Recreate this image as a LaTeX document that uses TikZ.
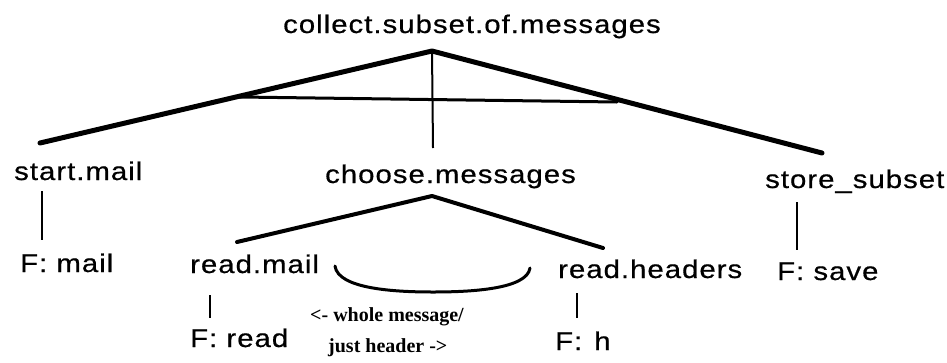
\documentclass[tikz,border=0pt]{standalone}
\usepackage{fontspec}
\setmainfont{Liberation Sans}[FakeStretch=1.15,LetterSpace=4,FakeBold=0.6]
\newfontfamily\notefont{Liberation Serif}
\begin{document}
\begin{tikzpicture}[x=1pt,y=-1pt,
  lbl/.style={font=\fontsize{25.5}{30}\selectfont, inner sep=0pt, anchor=base west},
  note/.style={font=\notefont\bfseries\fontsize{20}{22}\selectfont, inner sep=0pt, anchor=base west},
  heavy/.style={line width=5pt, line cap=round, line join=round},
  medium/.style={line width=4pt, line cap=round, line join=round},
  bar/.style={line width=3pt, line cap=round},
  thin/.style={line width=2pt}
]
\useasboundingbox (0,0) rectangle (947,362);
% labels
\node[lbl] (root) at (283,33) {collect.subset.of.messages};
\node[lbl] (start) at (14,180) {start.mail};
\node[lbl] (choose) at (325,183) {choose.messages};
\node[lbl] (store) at (765,188) {store\_subset};
\node[lbl] (fmail) at (20,272) {F: mail};
\node[lbl] (readmail) at (190,273) {read.mail};
\node[lbl] (readhead) at (558,278) {read.headers};
\node[lbl] (fsave) at (777,280) {F: save};
\node[lbl] (fread) at (190,347) {F: read};
\node[lbl] (fh) at (555,350) {F:\hspace{12pt}h};
\node[note] (note1) at (310,321) {<- whole message/};
\node[note] (note2) at (328,352) {just header ->};
% coordinates of the tree
\coordinate (apex) at (432,51);
\coordinate (lend) at (40,143);
\coordinate (rend) at (822,153);
\coordinate (barL) at (240,97);
\coordinate (barR) at (617,102);
\coordinate (mid) at (433,148);
\coordinate (capex) at (432,196);
\coordinate (clend) at (237,242);
\coordinate (crend) at (603,248);
\coordinate (sTop) at (42,191);
\coordinate (sBot) at (42,240);
\coordinate (rTop) at (210,295);
\coordinate (rBot) at (210,318);
\coordinate (hTop) at (577,293);
\coordinate (hBot) at (577,318);
\coordinate (tTop) at (797,202);
\coordinate (tBot) at (797,250);
\coordinate (arcL) at (335,266);
\coordinate (arcB) at (433,292);
\coordinate (arcR) at (530,268);
% connectors
\draw[heavy] (lend) -- (apex) -- (rend);
\draw[bar] (barL) -- (barR);
\draw[thin] (apex) -- (mid);
\draw[medium] (clend) -- (capex) -- (crend);
\draw[thin] (sTop) -- (sBot);
\draw[thin] (rTop) -- (rBot);
\draw[thin] (hTop) -- (hBot);
\draw[thin] (tTop) -- (tBot);
\draw[bar] (arcL) .. controls (338,289) and (395,292) .. (arcB) .. controls (472,292) and (527,289) .. (arcR);
\end{tikzpicture}
\end{document}
